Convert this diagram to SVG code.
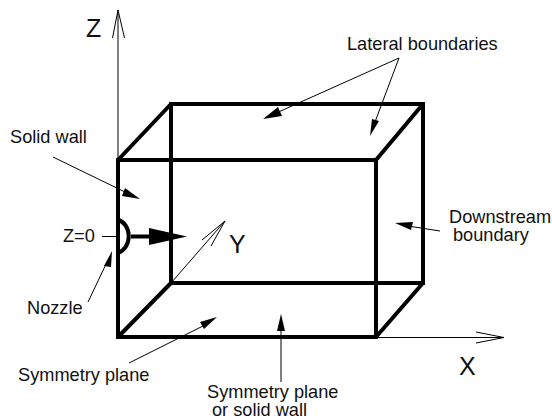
<svg xmlns="http://www.w3.org/2000/svg" width="552" height="419" viewBox="0 0 552 419">
<style>
text{font-family:"Liberation Sans",Arial,sans-serif;fill:#111}
.l{font-size:18.2px}
.a{font-size:25px}
.box{fill:none;stroke:#000;stroke-width:4;stroke-linejoin:miter}
.thin{fill:none;stroke:#000;stroke-width:1}
.head{fill:#000;stroke:none}
</style>
<rect width="552" height="419" fill="#fff"/>
<g id="connectors">
<path class="thin" d="M118 160V10M112.500 38L118 10L124.500 38"/>
<path class="thin" d="M376 337.500H504M476 332L504 337.500L476 343"/>
<path class="thin" d="M171 283L225 221M202 240L225 221L211 246"/>
<path class="thin" d="M53 157L125 192"/><path class="head" d="M140 199L122 196L125 188Z"/>
<path class="thin" d="M399 58L274 114"/><path class="head" d="M263 119L278 107L282 116Z"/>
<path class="thin" d="M399 58L375 122"/><path class="head" d="M370 136L372 119L379 121Z"/>
<path class="thin" d="M440 231L408 226"/><path class="head" d="M395 223L413 222L411 230Z"/>
<path class="thin" d="M88 302L108 260"/><path class="head" d="M112 251L111 267L104 266Z"/>
<path class="thin" d="M129 363L205 325"/><path class="head" d="M217 317L204 329L200 322Z"/>
<path class="thin" d="M281 382V330"/><path class="head" d="M281 314L285 331H277Z"/>
<path class="thin" d="M102 236.500H117"/>
<path d="M131 236.500H152" fill="none" stroke="#000" stroke-width="4"/><path class="head" d="M149 228L187 236.500L149 245Z"/>
</g>
<g id="box">
<path class="box" d="M118 160H376V337H118ZM171 104H423V283H171ZM118 160L171 104M376 160L423 104M118 337L171 283M376 337L423 283"/>
</g>
<g id="nozzle">
<path d="M118 220A13 16.500 0 0 1 118 252.500" fill="none" stroke="#000" stroke-width="4"/>
</g>
<g id="labels">
<text class="a" x="86" y="37">Z</text>
<text class="a" x="229" y="253">Y</text>
<text class="a" x="459" y="375">X</text>
<text class="l" x="10" y="143">Solid wall</text>
<text class="l" x="347" y="50">Lateral boundaries</text>
<text class="l" x="449" y="223">Downstream</text>
<text class="l" x="453" y="241">boundary</text>
<text class="l" x="63" y="242">Z=0</text>
<text class="l" x="27" y="314">Nozzle</text>
<text class="l" x="18" y="381">Symmetry plane</text>
<text class="l" x="207" y="398">Symmetry plane</text>
<text class="l" x="212" y="416">or solid wall</text>
</g>
</svg>
